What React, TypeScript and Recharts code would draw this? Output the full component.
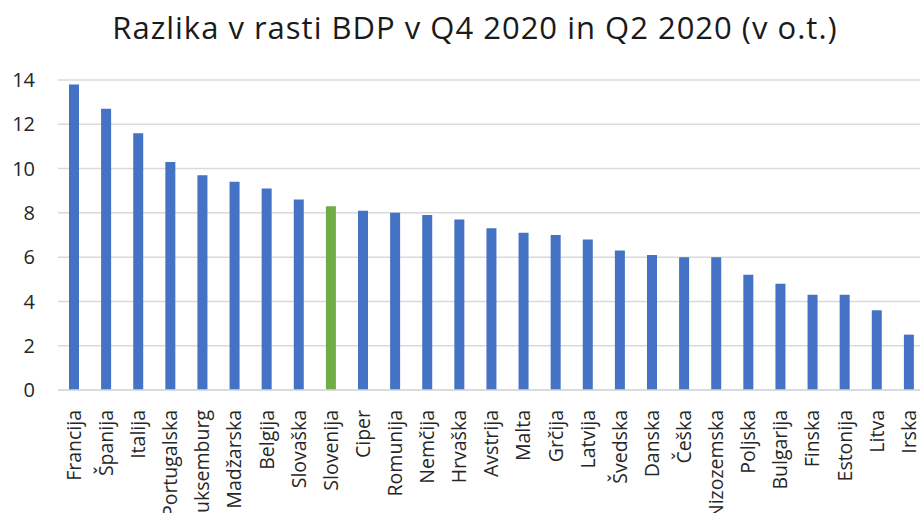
import { Bar, BarChart, CartesianGrid, Cell, XAxis, YAxis } from "recharts"

const countries = [
  "Francija", "Španija", "Italija", "Portugalska", "Luksemburg", "Madžarska",
  "Belgija", "Slovaška", "Slovenija", "Ciper", "Romunija", "Nemčija",
  "Hrvaška", "Avstrija", "Malta", "Grčija", "Latvija", "Švedska", "Danska",
  "Češka", "Nizozemska", "Poljska", "Bulgarija", "Finska", "Estonija",
  "Litva", "Irska",
]
const gdpDiff = [
  13.8, 12.7, 11.6, 10.3, 9.7, 9.4, 9.1, 8.6, 8.3, 8.1, 8.0, 7.9, 7.7, 7.3,
  7.1, 7.0, 6.8, 6.3, 6.1, 6.0, 6.0, 5.2, 4.8, 4.3, 4.3, 3.6, 2.5,
]
const yTicks = [0, 2, 4, 6, 8, 10, 12, 14]
const highlight = "Slovenija"

const data = countries.map((name, i) => ({ name, value: gdpDiff[i] }))

const FONT = "'Open Sans', sans-serif"

const CountryTick = ({ x, y, payload }: any) => (
  <text
    x={x}
    y={y}
    dy="0.35em"
    transform={`rotate(-90, ${x}, ${y})`}
    textAnchor="end"
    fill="#262626"
    fontSize={19.5}
    fontFamily={FONT}
  >
    {payload.value}
  </text>
)

export default function App() {
  return (
    <div
      style={{
        position: "fixed",
        top: 0,
        left: 0,
        width: 920,
        height: 513,
        overflow: "hidden",
        background: "#fff",
      }}
    >
      <div
        style={{
          position: "absolute",
          top: 6,
          left: 0,
          width: 950,
          textAlign: "center",
          fontFamily: FONT,
          fontSize: 31,
          letterSpacing: 1,
          color: "#1a1a1a",
        }}
      >
        Razlika v rasti BDP v Q4 2020 in Q2 2020 (v o.t.)
      </div>
      <BarChart
        width={930}
        height={513}
        data={data}
        margin={{ top: 80, right: 5, bottom: 0, left: 0 }}
      >
        <CartesianGrid vertical={false} stroke="#d9d9d9" strokeWidth={1.5} />
        <XAxis
          dataKey="name"
          interval={0}
          tickLine={false}
          axisLine={{ stroke: "#d9d9d9", strokeWidth: 1.5 }}
          height={123}
          tick={<CountryTick />}
          tickMargin={14}
        />
        <YAxis
          domain={[0, 14]}
          ticks={yTicks}
          width={58}
          tickLine={false}
          axisLine={false}
          tickMargin={17}
          tick={{ fill: "#262626", fontSize: 20, fontFamily: FONT }}
        />
        <Bar dataKey="value" barSize={10} isAnimationActive={false}>
          {data.map((d) => (
            <Cell
              key={d.name}
              fill={d.name === highlight ? "#70AD47" : "#4472C4"}
            />
          ))}
        </Bar>
      </BarChart>
    </div>
  )
}
